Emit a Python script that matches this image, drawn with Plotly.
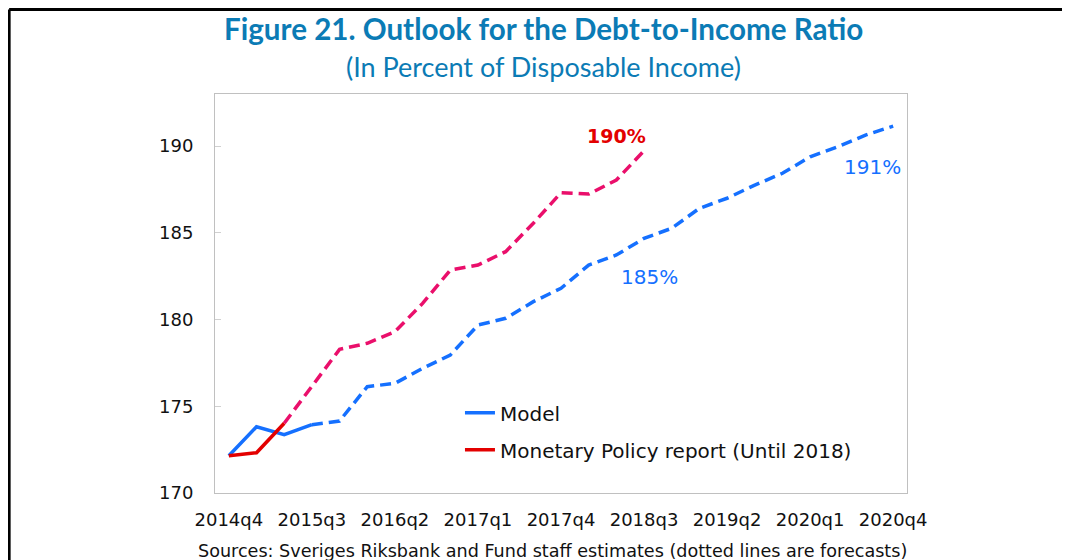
import plotly.graph_objects as go

# Quarterly categories
quarters = [
    "2014q4", "2015q1", "2015q2", "2015q3", "2015q4",
    "2016q1", "2016q2", "2016q3", "2016q4",
    "2017q1", "2017q2", "2017q3", "2017q4",
    "2018q1", "2018q2", "2018q3", "2018q4",
    "2019q1", "2019q2", "2019q3", "2019q4",
    "2020q1", "2020q2", "2020q3", "2020q4",
]
tick_labels = ["2014q4", "2015q3", "2016q2", "2017q1", "2017q4",
               "2018q3", "2019q2", "2020q1", "2020q4"]

# Debt-to-income ratio, percent of disposable income
model = [172.15, 173.82, 173.36, 173.94, 174.15, 176.13, 176.32, 177.19, 177.95,
         179.68, 180.07, 181.03, 181.80, 183.14, 183.72, 184.68, 185.26, 186.41,
         186.99, 187.75, 188.43, 189.38, 189.96, 190.63, 191.15]
mpr = [172.15, 172.32, 174.02, 176.13, 178.28, 178.63, 179.30, 180.93, 182.85,
       183.14, 183.91, 185.55, 187.31, 187.23, 188.04, 189.73]

model_last_actual = 3   # solid up to 2015q3, forecast afterwards
mpr_last_actual = 2     # solid up to 2015q2, forecast afterwards

BLUE = "#1570ff"
RED = "#e30000"
PINK = "#ea0f6b"
TEAL = "#0b7bb5"
DASH = "11px,6px"

fig = go.Figure()

fig.add_trace(go.Scatter(
    x=quarters[:model_last_actual + 1], y=model[:model_last_actual + 1],
    mode="lines", name="Model", legendgroup="model",
    line=dict(color=BLUE, width=3.5),
))
fig.add_trace(go.Scatter(
    x=quarters[model_last_actual:], y=model[model_last_actual:],
    mode="lines", showlegend=False, legendgroup="model",
    line=dict(color=BLUE, width=3.5, dash=DASH),
))
fig.add_trace(go.Scatter(
    x=quarters[mpr_last_actual:len(mpr)], y=mpr[mpr_last_actual:],
    mode="lines", showlegend=False, legendgroup="mpr",
    line=dict(color=PINK, width=3.5, dash=DASH),
))
fig.add_trace(go.Scatter(
    x=quarters[:mpr_last_actual + 1], y=mpr[:mpr_last_actual + 1],
    mode="lines", name="Monetary Policy report (Until 2018)", legendgroup="mpr",
    line=dict(color=RED, width=3.5),
))

# value labels
fig.add_annotation(x=14.0, y=190.58, text="<b>190%</b>", showarrow=False,
                   font=dict(family="DejaVu Sans", size=19, color=RED))
fig.add_annotation(x=15.2, y=182.45, text="185%", showarrow=False,
                   font=dict(family="DejaVu Sans", size=20, color=BLUE))
fig.add_annotation(x=23.27, y=188.79, text="191%", showarrow=False,
                   font=dict(family="DejaVu Sans", size=20, color=BLUE))

# titles and source
fig.add_annotation(xref="paper", yref="paper", x=0.474, y=1.163, yanchor="middle",
                   text="<b>Figure 21. Outlook for the Debt-to-Income Ratio</b>",
                   showarrow=False, font=dict(family="Lato", size=29.6, color=TEAL))
fig.add_annotation(xref="paper", yref="paper", x=0.474, y=1.068, yanchor="middle",
                   text="(In Percent of Disposable Income)",
                   showarrow=False, font=dict(family="Lato", size=27, color=TEAL))
fig.add_annotation(xref="paper", yref="paper", x=0.488, y=-0.145, yanchor="middle",
                   text="Sources: Sveriges Riksbank and Fund staff estimates (dotted lines are forecasts)",
                   showarrow=False, font=dict(family="DejaVu Sans", size=17.6, color="#111111"))

# outer frame (top and left)
fig.add_shape(type="line", xref="paper", yref="paper", x0=-0.2975, x1=1.25,
              y0=1.212, y1=1.212, line=dict(color="black", width=3))
fig.add_shape(type="line", xref="paper", yref="paper", x0=-0.2975, x1=-0.2975,
              y0=1.212, y1=-0.2, line=dict(color="black", width=3))

fig.update_layout(
    width=1062, height=552,
    margin=dict(l=207, r=163, t=86, b=67),
    paper_bgcolor="white", plot_bgcolor="white",
    font=dict(family="DejaVu Sans", size=18, color="#111111"),
    legend=dict(x=0.354, y=0.25, xanchor="left", yanchor="top",
                bgcolor="rgba(0,0,0,0)", font=dict(size=20),
                tracegroupgap=8, itemwidth=30),
)
fig.update_xaxes(
    type="category", range=[-0.5, 24.5],
    tickmode="array", tickvals=tick_labels, ticktext=tick_labels,
    showline=True, linecolor="#c0c0c0", linewidth=1, mirror=True,
    showgrid=False, ticks="", tickfont=dict(size=18), ticklabelstandoff=10,
)
fig.update_yaxes(
    range=[170, 193], tickvals=[170, 175, 180, 185, 190],
    showline=True, linecolor="#c0c0c0", linewidth=1, mirror=True,
    showgrid=False, ticks="inside", ticklen=6, tickcolor="#d0d0d0",
    tickfont=dict(size=18), zeroline=False, ticklabelstandoff=17,
)

fig.write_html("out.html")
